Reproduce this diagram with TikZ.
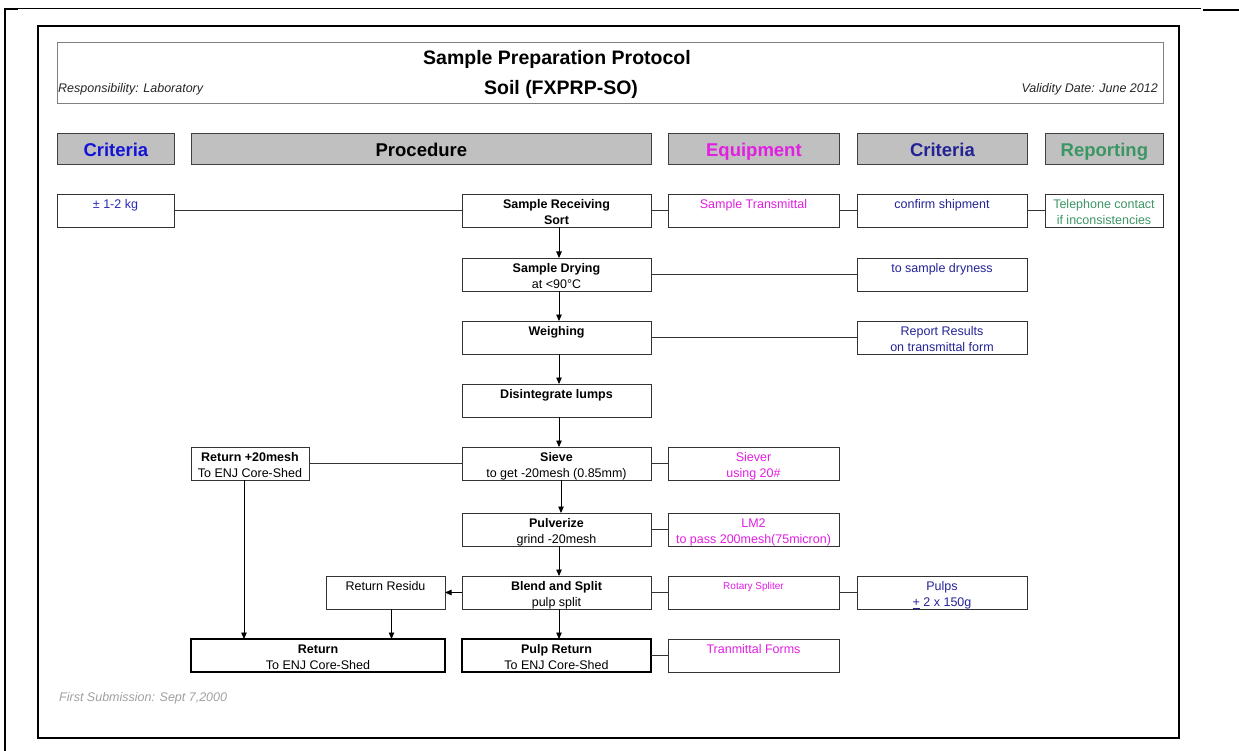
\documentclass[tikz,border=0pt]{standalone}
\usepackage{fontspec}
\setmainfont{Liberation Sans}
\usetikzlibrary{arrows.meta}

\definecolor{hdrfill}{RGB}{192,192,192}
\definecolor{hdrline}{RGB}{64,64,64}
\definecolor{boxline}{RGB}{51,51,51}
\definecolor{critblue}{RGB}{20,20,215}
\definecolor{navy}{RGB}{35,35,150}
\definecolor{kgblue}{RGB}{40,40,185}
\definecolor{equipmag}{RGB}{225,30,225}
\definecolor{repgreen}{RGB}{60,150,100}
\definecolor{notegray}{RGB}{160,160,160}
\definecolor{headgray}{RGB}{128,128,128}

% text of a cell: fixed height, lines hung from the top edge
\newcommand\cell[2]{\parbox[t][33pt][t]{#1}{\centering\fontsize{12.5}{16}\selectfont\rule{0pt}{14.5pt}#2\par}}
\newcommand\smallcell[2]{\parbox[t][33pt][t]{#1}{\centering\fontsize{10}{12}\selectfont\rule{0pt}{13.5pt}#2\par}}

\tikzset{
  box/.style={draw=boxline, line width=0.8pt, inner sep=0pt, outer sep=0pt, anchor=north west},
  thickbox/.style={box, draw=black, line width=2pt},
  header/.style={draw=hdrline, line width=0.8pt, fill=hdrfill, inner sep=0pt, anchor=north west,
                 minimum height=31pt, text height=16pt, text depth=0pt,
                 font=\fontsize{18.5}{20}\selectfont\bfseries},
  link/.style={draw=boxline, line width=0.8pt},
  arr/.style={draw=black, line width=0.8pt, -{Triangle[length=6.5pt,width=5.5pt]}},
  note/.style={inner sep=0pt, font=\itshape\fontsize{12.5}{14}\selectfont},
}

\begin{document}
\begin{tikzpicture}[x=1pt,y=-1pt]
\useasboundingbox (0,0) rectangle (1239,751);

% page rules and frame
\draw[line width=0.8pt] (5,8) -- (1201,8);
\draw[line width=1.6pt] (1203,10) -- (1239,10);
\draw[line width=1.6pt] (5,9) -- (18,9);
\draw[line width=1.2pt] (5,8) -- (5,751);
\draw[line width=2pt] (38,26) rectangle (1179,738);

% title block
\draw[draw=headgray, line width=0.8pt] (57,42) rectangle (1163,103);
\node[font=\fontsize{19.5}{22}\selectfont\bfseries] (title) at (557,59) {Sample Preparation Protocol};
\node[font=\fontsize{19.5}{22}\selectfont\bfseries] (subtitle) at (561,89) {Soil (FXPRP-SO)};
\node[note, anchor=west, text=black!85] (resp) at (58,89) {Responsibility: Laboratory};
\node[note, anchor=east, text=black!85] (valid) at (1158,89) {Validity Date: June 2012};

% column headers
\node[header, minimum width=117pt, text=critblue] (h1) at (57,133) {Criteria};
\node[header, minimum width=460pt, text=black] (h2) at (191,133) {Procedure};
\node[header, minimum width=171pt, text=equipmag] (h3) at (668,133) {Equipment};
\node[header, minimum width=170pt, text=navy] (h4) at (857,133) {Criteria};
\node[header, minimum width=118pt, text=repgreen] (h5) at (1045,133) {Reporting};

% row 1
\node[box] (kg) at (57,194) {\cell{117pt}{\textcolor{kgblue}{± 1-2 kg}}};
\node[box] (recv) at (462,194) {\cell{189pt}{\textbf{Sample Receiving}\\\textbf{Sort}}};
\node[box] (stx) at (668,194) {\cell{171pt}{\textcolor{equipmag}{Sample Transmittal}}};
\node[box] (conf) at (857,194) {\cell{170pt}{\textcolor{navy}{confirm shipment}}};
\node[box] (tel) at (1045,194) {\cell{118pt}{\textcolor{repgreen}{Telephone contact\\if inconsistencies}}};

% row 2
\node[box] (dry) at (462,258) {\cell{189pt}{\textbf{Sample Drying}\\at <90°C}};
\node[box] (dryness) at (857,258) {\cell{170pt}{\textcolor{navy}{to sample dryness}}};

% row 3
\node[box] (weigh) at (462,321) {\cell{189pt}{\textbf{Weighing}}};
\node[box] (report) at (857,321) {\cell{170pt}{\textcolor{navy}{Report Results\\on transmittal form}}};

% row 4
\node[box] (disint) at (462,384) {\cell{189pt}{\textbf{Disintegrate lumps}}};

% row 5
\node[box] (ret20) at (191,447) {\cell{118pt}{\textbf{Return +20mesh}\\To ENJ Core-Shed}};
\node[box] (sieve) at (462,447) {\cell{189pt}{\textbf{Sieve}\\to get -20mesh (0.85mm)}};
\node[box] (siever) at (668,447) {\cell{171pt}{\textcolor{equipmag}{Siever\\using 20\#}}};

% row 6
\node[box] (pulv) at (462,513) {\cell{189pt}{\textbf{Pulverize}\\grind -20mesh}};
\node[box] (lm2) at (668,513) {\cell{171pt}{\textcolor{equipmag}{LM2\\to pass 200mesh(75micron)}}};

% row 7
\node[box] (residu) at (326,576) {\cell{119pt}{Return Residu}};
\node[box] (blend) at (462,576) {\cell{189pt}{\textbf{Blend and Split}\\pulp split}};
\node[box] (rotary) at (668,576) {\smallcell{171pt}{\textcolor{equipmag}{Rotary Spliter}}};
\node[box] (pulps) at (857,576) {\cell{170pt}{\textcolor{navy}{Pulps\\\underline{+} 2 x 150g}}};

% row 8
\node[thickbox] (ret) at (191,639) {\cell{254pt}{\textbf{Return}\\To ENJ Core-Shed}};
\node[thickbox] (pulpret) at (462,639) {\cell{189pt}{\textbf{Pulp Return}\\To ENJ Core-Shed}};
\node[box] (tranf) at (668,639) {\cell{171pt}{\textcolor{equipmag}{Tranmittal Forms}}};

% footer
\node[note, anchor=west, text=notegray] (first) at (59,698) {First Submission: Sept 7,2000};

% horizontal links
\draw[link] (kg.east) -- (recv.west);
\draw[link] (recv.east) -- (stx.west);
\draw[link] (stx.east) -- (conf.west);
\draw[link] (conf.east) -- (tel.west);
\draw[link] (dry.east) -- (dryness.west);
\draw[link] (weigh.east) -- (report.west);
\draw[link] (ret20.east) -- (sieve.west);
\draw[link] (sieve.east) -- (siever.west);
\draw[link] (pulv.east) -- (lm2.west);
\draw[link] (blend.east) -- (rotary.west);
\draw[link] (rotary.east) -- (pulps.west);
\draw[link] (pulpret.east) -- (tranf.west);

% procedure flow
\draw[arr] ([xshift=2.5pt]recv.south) -- ([xshift=2.5pt]dry.north);
\draw[arr] ([xshift=2.5pt]dry.south) -- ([xshift=2.5pt]weigh.north);
\draw[arr] ([xshift=2.5pt]weigh.south) -- ([xshift=2.5pt]disint.north);
\draw[arr] ([xshift=2.5pt]disint.south) -- ([xshift=2.5pt]sieve.north);
\draw[arr] ([xshift=4.5pt]sieve.south) -- ([xshift=4.5pt]pulv.north);
\draw[arr] ([xshift=2.5pt]pulv.south) -- ([xshift=2.5pt]blend.north);
\draw[arr] ([xshift=2.5pt]blend.south) -- ([xshift=2.5pt]pulpret.north);
\draw[arr] (blend.west) -- (residu.east);
\draw[arr] ([xshift=6pt]residu.south) -- ([xshift=6pt]residu.south |- ret.north);
\draw[arr] ([xshift=-6pt]ret20.south) -- ([xshift=-6pt]ret20.south |- ret.north);
\end{tikzpicture}
\end{document}
